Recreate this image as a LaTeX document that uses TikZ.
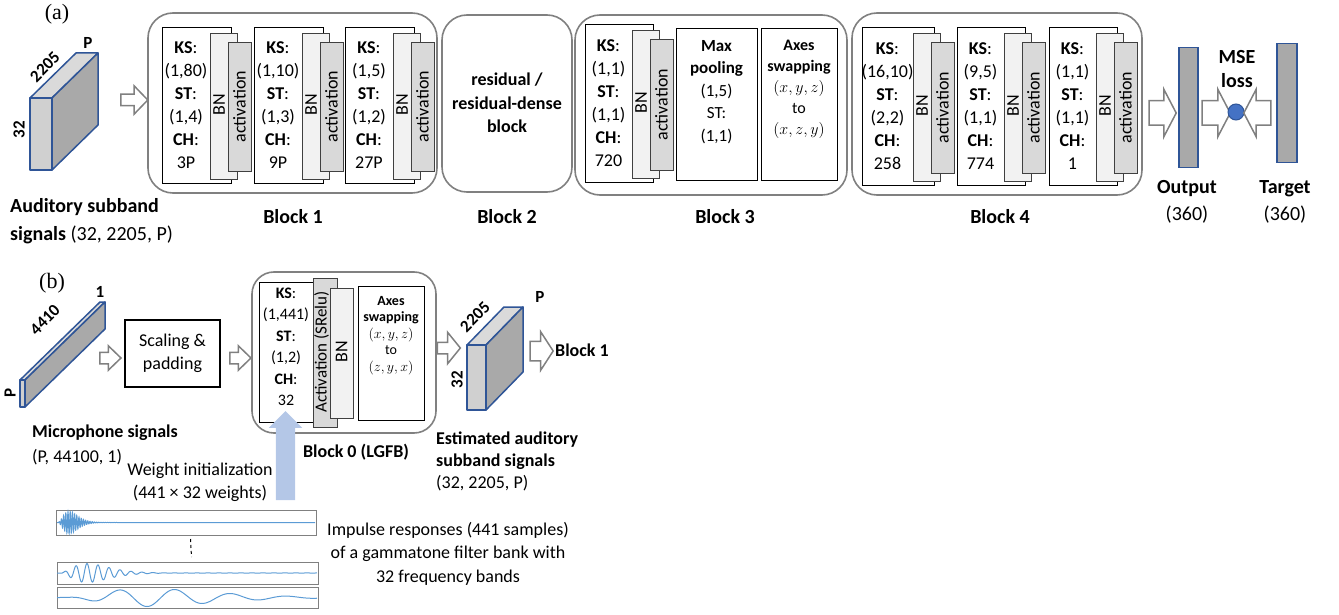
\documentclass[tikz,border=0pt]{standalone}
\usepackage{fix-cm}
\usepackage{fontspec}
\setmainfont{Carlito}
\newfontfamily\panelfont{Liberation Serif}
\usetikzlibrary{shapes.arrows,positioning,calc}

\definecolor{blkgray}{HTML}{808080}
\definecolor{edgeblue}{HTML}{2F5597}
\definecolor{facelight}{HTML}{D0D0D0}
\definecolor{facedark}{HTML}{A9A9A9}
\definecolor{facetop}{HTML}{DADADA}
\definecolor{bnfill}{HTML}{F2F2F2}
\definecolor{actfill}{HTML}{D9D9D9}
\definecolor{lossblue}{HTML}{4472C4}
\definecolor{initblue}{HTML}{B4C7E7}
\definecolor{waveblue}{HTML}{5B9BD5}

\tikzset{
	blk/.style={draw=blkgray, line width=1.6pt, rounded corners=25pt, inner sep=0pt},
	layer/.style={draw=black, line width=0.8pt, fill=white, anchor=north west, inner sep=0pt},
	bnbox/.style={layer, fill=bnfill, draw=black!75},
	actbox/.style={layer, fill=actfill, draw=black!75},
	txt/.style={font=\fontsize{18}{23}\selectfont, align=center, inner sep=0pt},
	lbl/.style={font=\fontsize{20}{27}\selectfont\bfseries, align=center, inner sep=0pt},
	lblb/.style={lbl, font=\fontsize{18}{23}\selectfont\bfseries},
	dimlbl/.style={font=\fontsize{17}{20}\selectfont\bfseries, inner sep=0pt},
	panel/.style={font=\panelfont\fontsize{22}{26}\selectfont, inner sep=0pt},
	harrow/.style={single arrow, draw=blkgray, fill=white, line width=1.5pt, inner xsep=0pt},
	bar/.style={draw=edgeblue, fill=facedark, line width=1.5pt, anchor=north west, inner sep=0pt},
	wavebox/.style={draw=blkgray, line width=1pt, anchor=north west, inner sep=0pt},
	wave/.style={waveblue, line width=1pt},
	cubeedge/.style={draw=edgeblue, line width=1.5pt, line join=round},
}

% conv layer with BN and activation behind it
% #1 name, #2 x, #3 y, #4 width, #5 height, #6 KS, #7 ST, #8 CH
\newcommand{\convunit}[8]{%
	\node[layer, minimum width=#4pt, minimum height=#5pt] (#1) at (#2,#3) {};
	\node[bnbox, minimum width=27pt, minimum height=#5pt-10pt] (#1bn) at ({#2+#4-21},{#3+6}) {};
	\node[actbox, minimum width=23pt, minimum height=#5pt-27pt] (#1act) at ({#2+#4-3},{#3+15}) {};
	\node[txt] (#1txt) at ({#2+(#4-21)/2},{#3+#5/2}) {\textbf{KS}:\\#6\\\textbf{ST}:\\#7\\\textbf{CH}:\\#8};
	\node[txt, rotate=90] (#1bntxt) at ({#2+#4-12},{#3+#5/2}) {BN};
	\node[txt, rotate=90] (#1acttxt) at ({#2+#4+8.5},{#3+15+(#5-27)/2}) {activation};
}

% 3d data block: #1 x, #2 y, #3 w, #4 h, #5 dx, #6 dy
\newcommand{\datacube}[6]{%
	\filldraw[cubeedge, fill=facetop] (#1,#2) -- ({#1+#3},#2) -- ({#1+#3+#5},{#2-#6}) -- ({#1+#5},{#2-#6}) -- cycle;
	\filldraw[cubeedge, fill=facedark] ({#1+#3},#2) -- ({#1+#3+#5},{#2-#6}) -- ({#1+#3+#5},{#2+#4-#6}) -- ({#1+#3},{#2+#4}) -- cycle;
	\filldraw[cubeedge, fill=facelight] (#1,#2) rectangle ({#1+#3},{#2+#4});
}

\begin{document}
\begin{tikzpicture}[x=1pt, y=-1pt]
	\useasboundingbox (0,0) rectangle (1339,615);

	% ---------------- (a) ----------------
	\node[panel] (pa) at (57,14) {(a)};

	\datacube{30}{98}{22}{72}{46}{45}
	\node[dimlbl, rotate=45] (in2205) at (45,67) {2205};
	\node[dimlbl] (inP) at (88,43) {P};
	\node[dimlbl, rotate=90] (in32) at (19,130) {32};
	\node[lbl, align=left, anchor=west, font=\fontsize{20}{28}\selectfont\bfseries] (inlbl) at (10,221) {Auditory subband\\signals {\mdseries (32, 2205, P)}};

	\node[harrow, minimum height=27pt, inner ysep=5pt, single arrow head extend=8.5pt, single arrow tip angle=92] (ar0) at (131.5,100) {};

	% Block 1
	\node[blk, minimum width=289pt, minimum height=180pt] (blk1) at (292.5,103) {};
	\convunit{u11}{162}{27}{69}{156}{(1,80)}{(1,4)}{3P}
	\convunit{u12}{254}{27}{69}{156}{(1,10)}{(1,3)}{9P}
	\convunit{u13}{345}{27}{69}{156}{(1,5)}{(1,2)}{27P}
	\node[lbl] (blk1lbl) at (293,217) {Block 1};

	% Block 2
	\node[blk, minimum width=130pt, minimum height=177pt] (blk2) at (507,103.5) {};
	\node[txt, font=\fontsize{18}{23.5}\selectfont\bfseries] (blk2txt) at (507,103) {residual /\\residual-dense\\block};
	\node[lbl] (blk2lbl) at (507,217) {Block 2};

	% Block 3
	\node[blk, minimum width=272pt, minimum height=180pt] (blk3) at (711,105) {};
	\convunit{u31}{585}{24}{68}{158}{(1,1)}{(1,1)}{720}
	\node[layer, minimum width=81pt, minimum height=152pt] (pool3) at (676,28) {};
	\node[txt, anchor=north, font=\fontsize{17}{22.5}\selectfont] (pool3txt) at (716.5,40) {\textbf{Max}\\\textbf{pooling}\\(1,5)\\ST:\\(1,1)};
	\node[layer, minimum width=76pt, minimum height=152pt] (swap3) at (761,28) {};
	\node[txt, anchor=north, font=\fontsize{16}{21}\selectfont] (swap3txt) at (799,40) {\textbf{Axes}\\\textbf{swapping}\\$(x,y,z)$\\to\\$(x,z,y)$};
	\node[lbl] (blk3lbl) at (725,217) {Block 3};

	% Block 4
	\node[blk, minimum width=290pt, minimum height=182pt] (blk4) at (997,104) {};
	\convunit{u41}{862}{27}{72}{158}{(16,10)}{(2,2)}{258}
	\convunit{u42}{957}{27}{68}{158}{(9,5)}{(1,1)}{774}
	\convunit{u43}{1049}{27}{68}{158}{(1,1)}{(1,1)}{1}
	\node[lbl] (blk4lbl) at (1000,217) {Block 4};

	% output and loss
	\node[harrow, minimum height=27pt, inner ysep=11.5pt, single arrow head extend=11.5pt, single arrow tip angle=125] (ar4) at (1159.5,113) {};
	\node[bar, minimum width=19pt, minimum height=120pt] (outbar) at (1178,47) {};
	\node[harrow, minimum height=28pt, inner ysep=11.5pt, single arrow head extend=11.5pt, single arrow tip angle=125] (ar5) at (1213,113) {};
	\node[circle, draw=edgeblue, fill=lossblue, line width=1pt, minimum size=16pt, inner sep=0pt] (loss) at (1236,112) {};
	\node[harrow, minimum height=27pt, inner ysep=11.5pt, single arrow head extend=11.5pt, single arrow tip angle=125, shape border rotate=180] (ar6) at (1260.5,113) {};
	\node[bar, minimum width=20pt, minimum height=119pt] (tgtbar) at (1276,43) {};
	\node[lbl, font=\fontsize{20}{24}\selectfont\bfseries] (mse) at (1237,69) {MSE\\loss};
	\node[lbl] (outlbl) at (1187,201.5) {Output\\{\mdseries (360)}};
	\node[lbl] (tgtlbl) at (1285,201.5) {Target\\{\mdseries (360)}};

	% ---------------- (b) ----------------
	\node[panel] (pb) at (52,283) {(b)};

	\datacube{20}{380}{5}{27}{80}{78}
	\node[dimlbl, rotate=45] (mic4410) at (45,320) {4410};
	\node[dimlbl] (mic1) at (100,292) {1};
	\node[dimlbl, rotate=90] (micP) at (10,393) {P};
	\node[lblb, align=left, anchor=west, font=\fontsize{18}{25}\selectfont\bfseries] (miclbl) at (32,445) {Microphone signals\\{\mdseries (P, 44100, 1)}};

	\node[harrow, minimum height=21pt, inner ysep=5pt, single arrow head extend=6.5pt, single arrow tip angle=88] (br1) at (107.5,358) {};
	\node[txt, draw, line width=1.5pt, minimum width=95pt, minimum height=67pt] (scal) at (172.5,353.5) {Scaling \&\\padding};
	\node[harrow, minimum height=21pt, inner ysep=5pt, single arrow head extend=6.5pt, single arrow tip angle=88] (br2) at (237.5,358) {};

	% Block 0
	\node[blk, rounded corners=22pt, minimum width=184pt, minimum height=161pt] (blk0) at (344,352.5) {};
	\node[layer, minimum width=54pt, minimum height=140pt] (c0) at (259,282) {};
	\node[actbox, minimum width=24pt, minimum height=149pt] (c0act) at (313,278) {};
	\node[bnbox, minimum width=23pt, minimum height=130pt] (c0bn) at (330,288) {};
	\node[txt, font=\fontsize{16}{21.5}\selectfont] (c0txt) at (286,347) {\textbf{KS}:\\(1,441)\\\textbf{ST}:\\(1,2)\\\textbf{CH}:\\32};
	\node[txt, rotate=90, font=\fontsize{17}{20}\selectfont] (c0acttxt) at (321.5,352) {Activation (SRelu)};
	\node[txt, rotate=90] (c0bntxt) at (341.5,352) {BN};
	\node[layer, minimum width=66pt, minimum height=134pt] (swap0) at (358,286) {};
	\node[txt, anchor=north, font=\fontsize{14}{16.5}\selectfont] (swap0txt) at (391,296) {\textbf{Axes}\\\textbf{swapping}\\$(x,y,z)$\\to\\$(z,y,x)$};
	\node[lblb] (blk0lbl) at (356,452) {Block 0 (LGFB)};

	\node[harrow, minimum height=23pt, inner ysep=5pt, single arrow head extend=10pt, single arrow tip angle=102] (br3) at (446.5,348) {};
	\datacube{467}{345}{19}{65}{37}{38}
	\node[dimlbl, rotate=45] (est2205) at (475,317) {2205};
	\node[dimlbl] (estP) at (540,297) {P};
	\node[dimlbl, rotate=90] (est32) at (457,380) {32};
	\node[harrow, minimum height=23pt, inner ysep=9pt, single arrow head extend=9.5pt, single arrow tip angle=114] (br4) at (538.5,351) {};
	\node[lblb, anchor=west] (toblk1) at (555,350) {Block 1};
	\node[lblb, align=left, anchor=west, font=\fontsize{18}{22}\selectfont\bfseries] (estlbl) at (436,461) {Estimated auditory\\subband signals\\{\mdseries (32, 2205, P)}};

	% gammatone initialisation
	\node[wavebox, minimum width=260pt, minimum height=25pt] (wv1) at (56,510) {};
	\node[wavebox, minimum width=261pt, minimum height=22pt] (wv2) at (57,562) {};
	\node[wavebox, minimum width=261pt, minimum height=21pt] (wv3) at (57,587) {};
	\draw[wave] plot[domain=0.01:60, samples=481] ({57+\x}, {522.5-11*(\x/12)^3*exp(3-\x/4)*cos(\x*163.636)}) -- (315,522.5);
	\draw[wave] plot[domain=0.01:260, samples=521] ({57+\x}, {573-9.5*(\x/30)^3*exp(3-\x/10)*cos((\x-30)*32.727)});
	\draw[wave] plot[domain=0.01:260, samples=261] ({57+\x}, {597.5+9*(\x/90)^3*exp(3-\x/30)*cos((\x-90)*6.4286)});
	\draw[dashed, line width=1pt] ($(wv1.south)+(4,3)$) -- ($(wv2.north)+(3.5,-5)$);

	\node[single arrow, fill=initblue, rotate=90, minimum height=89pt, inner ysep=9.5pt, inner xsep=0pt, single arrow head extend=7pt, single arrow tip angle=90] (initarr) at (285.5,460.5) {};

	\node[txt] (winit) at (200,482.5) {Weight initialization\\(441 × 32 weights)};
	\node[txt, font=\fontsize{18}{23.5}\selectfont] (irtxt) at (448,553.5) {Impulse responses (441 samples)\\of a gammatone filter bank with\\32 frequency bands};
\end{tikzpicture}
\end{document}
